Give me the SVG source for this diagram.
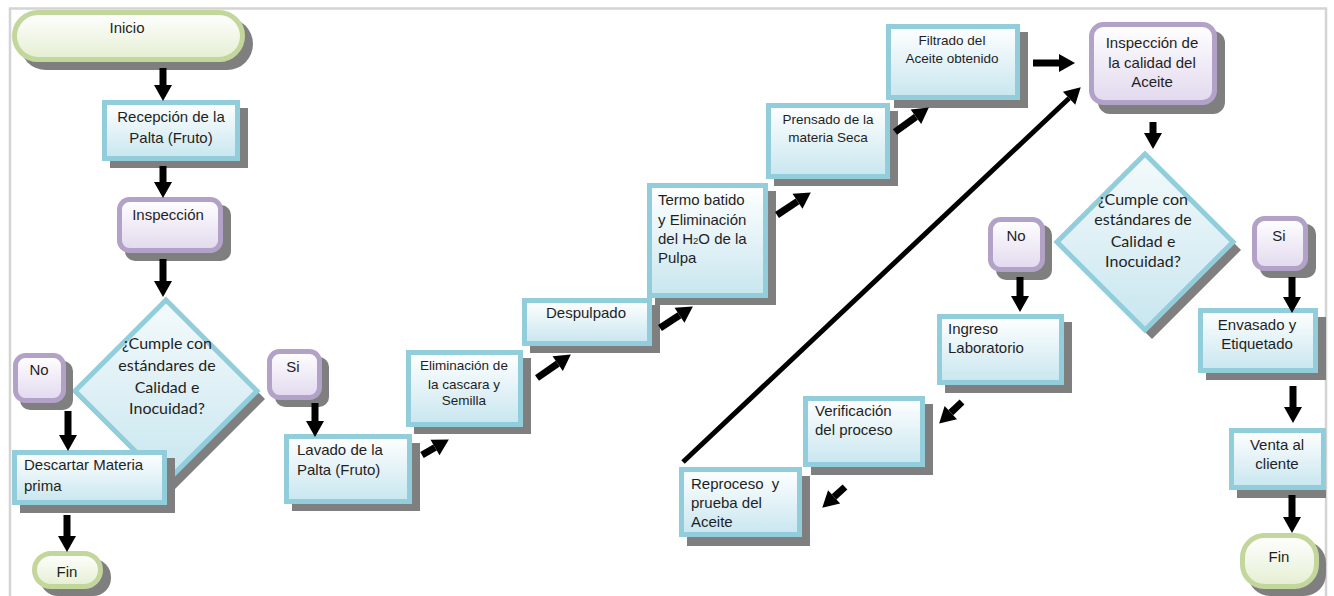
<svg xmlns="http://www.w3.org/2000/svg" width="1334" height="596" viewBox="0 0 1334 596">
<defs>
<linearGradient id="gBlue" x1="0" y1="0" x2="0" y2="1"><stop offset="0" stop-color="#ffffff"/><stop offset="1" stop-color="#c8e6ef"/></linearGradient>
<linearGradient id="gPurple" x1="0" y1="0" x2="0" y2="1"><stop offset="0" stop-color="#ffffff"/><stop offset="1" stop-color="#e2d9ee"/></linearGradient>
<linearGradient id="gGreen" x1="0" y1="0" x2="0" y2="1"><stop offset="0" stop-color="#ffffff"/><stop offset="1" stop-color="#e4eed2"/></linearGradient>
<linearGradient id="gDia" x1="0" y1="0" x2="0" y2="1"><stop offset="0" stop-color="#f4fafc"/><stop offset="1" stop-color="#c8e6ef"/></linearGradient>
<marker id="ah" markerUnits="userSpaceOnUse" markerWidth="16" markerHeight="18" refX="0" refY="9" orient="auto" overflow="visible"><path d="M0,0 L16,9 L0,18 z" fill="#000"/></marker>
</defs>
<style>
.sh{fill:#7f7f7f}
.box{fill:url(#gBlue);stroke:#92cddc;stroke-width:5}
.pur{fill:url(#gPurple);stroke:#b3a2c7;stroke-width:5}
.grn{fill:url(#gGreen);stroke:#c3d69b;stroke-width:5}
.dia{fill:url(#gDia);stroke:#92cddc;stroke-width:5;stroke-linejoin:miter}
.t{font-family:"Liberation Sans",Arial,sans-serif;font-size:15px;fill:#1f1f1f}
.s{font-size:13.5px}
.c{text-anchor:middle}
.d{font-family:Lato,"Liberation Sans",sans-serif;font-size:16px;fill:#1f1f1f;text-anchor:middle}
.a{stroke:#000;stroke-width:7;fill:none;marker-end:url(#ah)}
</style>
<rect x="0" y="0" width="1334" height="596" fill="#ffffff"/>
<path d="M10,596 V8.5 H1326 V596" fill="none" stroke="#d4d4d4" stroke-width="2.5"/>

<g id="inicio">
<rect class="sh" x="20" y="18" width="233" height="52" rx="26"/>
<rect class="grn" x="14.5" y="12.5" width="228" height="47" rx="23.5"/>
<text class="t c" x="127" y="33">Inicio</text>
</g>
<g id="recepcion">
<rect class="sh" x="110" y="108" width="138" height="60"/>
<rect class="box" x="104.5" y="102.5" width="133" height="56"/>
<text class="t c" x="171" y="122">Recepción de la</text>
<text class="t c" x="171" y="143">Palta (Fruto)</text>
</g>
<g id="inspeccion">
<rect class="sh" x="125" y="205" width="106" height="56" rx="10"/>
<rect class="pur" x="119.5" y="199.5" width="101" height="51" rx="10"/>
<text class="t c" x="168" y="220">Inspección</text>
</g>
<g id="decision1">
<path class="sh" d="M174,308 L265,399 L174,490 L83,399 z"/>
<path class="dia" d="M166,300 L257,391 L166,482 L75,391 z"/>
<text class="d" x="167" y="349">¿Cumple con</text>
<text class="d" x="167" y="371">estándares de</text>
<text class="d" x="167" y="393">Calidad e</text>
<text class="d" x="167" y="414">Inocuidad?</text>
</g>
<g id="no1">
<rect class="sh" x="20" y="361" width="53" height="49" rx="10"/>
<rect class="pur" x="15.5" y="355.5" width="48" height="45" rx="10"/>
<text class="t c" x="39" y="375">No</text>
</g>
<g id="descartar">
<rect class="sh" x="20" y="458" width="155" height="55"/>
<rect class="box" x="14.5" y="452.5" width="150" height="50"/>
<text class="t" x="24" y="470">Descartar Materia</text>
<text class="t" x="24" y="491">prima</text>
</g>
<g id="fin1">
<rect class="sh" x="40" y="559" width="71" height="37" rx="18"/>
<rect class="grn" x="34.5" y="553.5" width="66" height="33" rx="16.5"/>
<text class="t c" x="67" y="577">Fin</text>
</g>
<g id="si1">
<rect class="sh" x="275" y="357" width="54" height="50" rx="10"/>
<rect class="pur" x="269.5" y="351.5" width="50" height="46" rx="10"/>
<text class="t c" x="293" y="372">Si</text>
</g>
<g id="lavado">
<rect class="sh" x="292" y="443" width="128" height="68"/>
<rect class="box" x="286.5" y="436.5" width="123" height="65"/>
<text class="t" x="297" y="455">Lavado de la</text>
<text class="t" x="297" y="475">Palta (Fruto)</text>
</g>
<g id="eliminacion">
<rect class="sh" x="414" y="358" width="117" height="76"/>
<rect class="box" x="408.5" y="352.5" width="112" height="72"/>
<text class="t s c" x="464" y="370">Eliminación de</text>
<text class="t s c" x="464" y="389">la cascara y</text>
<text class="t s c" x="464" y="405">Semilla</text>
</g>
<g id="despulpado">
<rect class="sh" x="530" y="305" width="130" height="48"/>
<rect class="box" x="524.5" y="300.5" width="125" height="43"/>
<text class="t c" x="586" y="318">Despulpado</text>
</g>
<g id="termo">
<rect class="sh" x="655" y="191" width="121" height="114"/>
<rect class="box" x="649.5" y="185.5" width="116" height="110"/>
<text class="t" x="658" y="205">Termo batido</text>
<text class="t" x="658" y="225">y Eliminación</text>
<text class="t" x="658" y="244">del H<tspan font-size="9.5">2</tspan>O de la</text>
<text class="t" x="658" y="263">Pulpa</text>
</g>
<g id="prensado">
<rect class="sh" x="774" y="111" width="124" height="75"/>
<rect class="box" x="768.5" y="105.5" width="119" height="71"/>
<text class="t s c" x="828" y="124">Prensado de la</text>
<text class="t s c" x="828" y="142">materia Seca</text>
</g>
<g id="filtrado">
<rect class="sh" x="894" y="32" width="134" height="76"/>
<rect class="box" x="888.5" y="26.5" width="129" height="71"/>
<text class="t s c" x="952" y="45">Filtrado del</text>
<text class="t s c" x="952" y="63">Aceite obtenido</text>
</g>
<g id="inspeccion_calidad">
<rect class="sh" x="1098" y="31" width="127" height="83" rx="12"/>
<rect class="pur" x="1091.5" y="24.5" width="123" height="78" rx="12"/>
<text class="t c" x="1152" y="48">Inspección de</text>
<text class="t c" x="1152" y="68">la calidad del</text>
<text class="t c" x="1152" y="87">Aceite</text>
</g>
<g id="decision2">
<path class="sh" d="M1152,161 L1241,250 L1152,339 L1063,250 z"/>
<path class="dia" d="M1145,154 L1233,242 L1145,330 L1057,242 z"/>
<text class="d" x="1143" y="205">¿Cumple con</text>
<text class="d" x="1143" y="225">estándares de</text>
<text class="d" x="1143" y="247">Calidad e</text>
<text class="d" x="1143" y="267">Inocuidad?</text>
</g>
<g id="no2">
<rect class="sh" x="996" y="225" width="56" height="55" rx="10"/>
<rect class="pur" x="990.5" y="219.5" width="52" height="50" rx="10"/>
<text class="t c" x="1016" y="241">No</text>
</g>
<g id="ingreso">
<rect class="sh" x="945" y="322" width="127" height="71"/>
<rect class="box" x="939.5" y="316.5" width="122" height="66"/>
<text class="t" x="948" y="334">Ingreso</text>
<text class="t" x="948" y="353">Laboratorio</text>
</g>
<g id="verificacion">
<rect class="sh" x="811" y="404" width="122" height="71"/>
<rect class="box" x="805.5" y="398.5" width="117" height="66"/>
<text class="t" x="815" y="416">Verificación</text>
<text class="t" x="815" y="435">del proceso</text>
</g>
<g id="reproceso">
<rect class="sh" x="687" y="476" width="123" height="70"/>
<rect class="box" x="681.5" y="469.5" width="118" height="65"/>
<text class="t" x="691" y="489" xml:space="preserve">Reproceso  y</text>
<text class="t" x="691" y="508">prueba del</text>
<text class="t" x="691" y="527">Aceite</text>
</g>
<g id="si2">
<rect class="sh" x="1260" y="224" width="56" height="54" rx="10"/>
<rect class="pur" x="1254.5" y="218.5" width="51" height="50" rx="10"/>
<text class="t c" x="1279" y="241">Si</text>
</g>
<g id="envasado">
<rect class="sh" x="1206" y="317" width="120" height="63"/>
<rect class="box" x="1200.5" y="310.5" width="115" height="60"/>
<text class="t c" x="1257" y="330">Envasado y</text>
<text class="t c" x="1257" y="349">Etiquetado</text>
</g>
<g id="venta">
<rect class="sh" x="1237" y="436" width="89" height="62"/>
<rect class="box" x="1231.5" y="430.5" width="92" height="57"/>
<text class="t c" x="1277" y="450">Venta al</text>
<text class="t c" x="1277" y="469">cliente</text>
</g>
<g id="fin2">
<rect class="sh" x="1248" y="541" width="78" height="55" rx="22"/>
<rect class="grn" x="1242.5" y="535.5" width="74" height="51" rx="22"/>
<text class="t c" x="1279" y="562">Fin</text>
</g>

<g id="connectors">
<line class="a" x1="163" y1="68" x2="163" y2="85"/>
<line class="a" x1="163" y1="166" x2="163" y2="182"/>
<line class="a" x1="163" y1="259" x2="163" y2="281"/>
<line class="a" x1="68" y1="411" x2="68" y2="435"/>
<line class="a" x1="67" y1="515" x2="67" y2="536"/>
<line class="a" x1="315" y1="403" x2="315" y2="421"/>
<line class="a" x1="422" y1="455" x2="435" y2="447.5"/>
<line class="a" x1="537" y1="378" x2="557.7" y2="363.6"/>
<line class="a" x1="660" y1="328" x2="679.5" y2="315.2"/>
<line class="a" x1="777" y1="215" x2="797.5" y2="201.3"/>
<line class="a" x1="895" y1="132" x2="915.9" y2="116.8"/>
<line class="a" x1="1033" y1="63" x2="1059" y2="63"/>
<line class="a" style="stroke-width:5" x1="683" y1="462" x2="1069.1" y2="98.3"/>
<line class="a" x1="1153" y1="122" x2="1153" y2="133"/>
<line class="a" x1="1020" y1="277" x2="1020" y2="296"/>
<line class="a" x1="962" y1="402" x2="950.8" y2="412.6"/>
<line class="a" x1="845" y1="487" x2="834.1" y2="496.9"/>
<line class="a" x1="1292" y1="277" x2="1292" y2="297"/>
<line class="a" x1="1293" y1="386" x2="1293" y2="407"/>
<line class="a" x1="1292" y1="495" x2="1292" y2="517"/>
</g>
</svg>
